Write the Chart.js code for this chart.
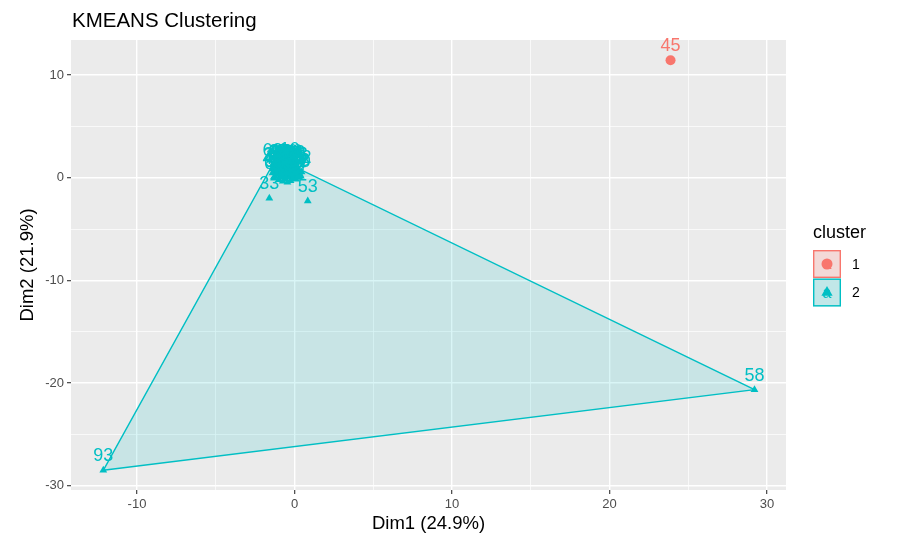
<!DOCTYPE html>
<html>
<head>
<meta charset="utf-8">
<script src="https://cdn.jsdelivr.net/npm/chart.js@4.4.0/dist/chart.umd.min.js"></script>
<style>
html,body{margin:0;padding:0;background:#ffffff;}
#wrap{width:908px;height:535px;position:relative;}
canvas{display:block;}
</style>
</head>
<body>
<div id="wrap"><canvas id="c" width="908" height="535"></canvas></div>
<script>
// ---- data ----
const chartTitle = 'KMEANS Clustering';
const xAxisTitle = 'Dim1 (24.9%)';
const yAxisTitle = 'Dim2 (21.9%)';
const legendTitle = 'cluster';
const clusterNames = ['1', '2'];
const xTickLabels = [-10, 0, 10, 20, 30];
const yTickLabels = [-30, -20, -10, 0, 10];

const cluster1X = [23.87];
const cluster1Y = [11.44];
const cluster1Labels = ['45'];

const cluster2Labels = ['58','93','33','53',
  '1','2','3','4','5','6','7','8','9','10','11','12','13','14','15','16','17','18','19','20',
  '21','22','23','24','25','26','27','28','29','30','31','32','34','35','36','37','38','39','40',
  '41','42','43','44','46','47','48','49','50','51','52','54','55','56','57','59','60','61','62','63','64','65'];
const cluster2X = [29.20,-12.14,-1.60,0.84,
  -0.45,-0.20,-1.30,-0.70,0.10,-0.95,-0.35,0.25,-1.10,-0.30,-0.15,-0.85,0.35,-0.60,-1.20,-0.05,-0.40,-0.75,0.15,-1.00,
  -0.25,-0.90,0.05,-0.50,-1.35,-0.30,0.30,-0.65,-1.05,-0.10,-0.80,0.45,-0.45,-1.25,-0.15,-0.70,0.20,-0.95,-0.35,
  0.00,-0.55,-1.15,0.10,-0.75,-0.20,-1.40,-0.60,0.40,-0.90,-0.25,-1.05,0.05,-0.45,-0.80,-0.10,-1.30,0.25,-1.40,-0.55,-0.05,-0.85];
const cluster2Y = [-20.65,-28.50,-2.00,-2.27,
  0.85,1.05,1.10,0.40,0.90,0.75,0.20,0.60,0.30,1.30,0.55,1.15,0.30,-0.10,0.65,0.15,0.60,0.90,0.35,-0.20,
  -0.30,0.10,1.00,0.35,0.85,0.95,0.05,0.65,1.00,0.75,0.25,0.55,-0.45,0.20,1.15,1.05,0.80,0.50,0.05,
  0.45,0.80,0.90,-0.15,-0.35,0.35,0.45,0.15,0.15,0.95,0.75,0.55,0.60,1.10,0.60,-0.05,-0.05,0.85,1.25,0.50,0.95,0.40];

// convex hull of cluster 2 (vertices: 93, 62, 10, 58, back to 93)
const hullX = [-12.14, -1.40, -0.30, 29.20, -12.14];
const hullY = [-28.50, 1.25, 1.30, -20.65, -28.50];

// ---- styling ----
const COL1 = '#F8766D';
const COL2 = '#00BFC4';
const FONT = '"Liberation Sans", Arial, Helvetica, sans-serif';

const toPts = (xs, ys) => xs.map((x, i) => ({x: x, y: ys[i]}));

const bgPlugin = {
  id: 'ggBackground',
  beforeDraw(chart) {
    const {ctx, chartArea: a} = chart;
    ctx.save();
    ctx.fillStyle = '#ffffff';
    ctx.fillRect(0, 0, chart.width, chart.height);
    ctx.fillStyle = '#EBEBEB';
    ctx.fillRect(a.left, a.top, a.right - a.left, a.bottom - a.top);
    ctx.restore();
  }
};

const labelPlugin = {
  id: 'pointLabels',
  afterDatasetsDraw(chart) {
    const ctx = chart.ctx;
    ctx.save();
    ctx.font = '18px ' + FONT;
    ctx.textAlign = 'center';
    ctx.textBaseline = 'alphabetic';
    [[1, cluster2Labels, COL2], [0, cluster1Labels, COL1]].forEach(([idx, labels, col]) => {
      const meta = chart.getDatasetMeta(idx);
      ctx.fillStyle = col;
      meta.data.forEach((pt, j) => {
        ctx.fillText(labels[j], pt.x, pt.y - 9);
      });
    });
    ctx.restore();
  }
};

const decoPlugin = {
  id: 'ggDecor',
  afterDraw(chart) {
    const ctx = chart.ctx;
    ctx.save();
    // title
    ctx.fillStyle = '#000000';
    ctx.font = '20.5px ' + FONT;
    ctx.textAlign = 'left';
    ctx.textBaseline = 'alphabetic';
    ctx.fillText(chartTitle, 72, 27);
    // legend
    ctx.font = '18px ' + FONT;
    ctx.fillText(legendTitle, 813, 238);
    const cols = [COL1, COL2];
    const rgba = ['rgba(248,118,109,0.2)', 'rgba(0,191,196,0.2)'];
    clusterNames.forEach((name, i) => {
      const left = 813, top = 250 + i * 28.5, size = 28;
      ctx.fillStyle = '#F2F2F2';
      ctx.fillRect(left, top, size, size);
      ctx.fillStyle = rgba[i];
      ctx.fillRect(left, top, size, size);
      ctx.strokeStyle = cols[i];
      ctx.lineWidth = 1.4;
      ctx.strokeRect(left + 0.7, top + 0.7, size - 1.4, size - 1.4);
      const cx = left + size / 2, cy = top + size / 2;
      // text key glyph
      ctx.fillStyle = cols[i];
      ctx.font = '16px ' + FONT;
      ctx.textAlign = 'center';
      ctx.textBaseline = 'middle';
      ctx.fillText('a', cx, cy + 1);
      // point key glyph
      ctx.beginPath();
      if (i === 0) {
        ctx.arc(cx, cy, 5.5, 0, Math.PI * 2);
      } else {
        const r = 6.5;
        ctx.moveTo(cx, cy - r);
        ctx.lineTo(cx + r * Math.sin(Math.PI * 2 / 3), cy - r * Math.cos(Math.PI * 2 / 3));
        ctx.lineTo(cx - r * Math.sin(Math.PI * 2 / 3), cy - r * Math.cos(Math.PI * 2 / 3));
        ctx.closePath();
      }
      ctx.fill();
      // label
      ctx.fillStyle = '#000000';
      ctx.font = '14px ' + FONT;
      ctx.textAlign = 'left';
      ctx.textBaseline = 'middle';
      ctx.fillText(name, 852, cy + 1);
    });
    ctx.restore();
  }
};

const isMajor = (c, list) => c.tick && list.includes(c.tick.value);

const gridFor = (list) => ({
  color: '#FFFFFF',
  lineWidth: c => isMajor(c, list) ? 1.4 : 0.7,
  drawTicks: true,
  tickLength: 4,
  tickWidth: 1.1,
  tickColor: c => isMajor(c, list) ? '#333333' : 'rgba(0,0,0,0)'
});

new Chart(document.getElementById('c'), {
  type: 'scatter',
  data: {
    datasets: [
      {
        label: '1',
        data: toPts(cluster1X, cluster1Y),
        pointStyle: 'circle',
        pointRadius: 5,
        pointHoverRadius: 5,
        backgroundColor: COL1,
        borderWidth: 0
      },
      {
        label: '2',
        data: toPts(cluster2X, cluster2Y),
        pointStyle: 'triangle',
        pointRadius: 4.5,
        pointHoverRadius: 4.5,
        backgroundColor: COL2,
        borderColor: COL2,
        borderWidth: 0
      },
      {
        label: 'hull',
        data: toPts(hullX, hullY),
        showLine: true,
        tension: 0,
        pointRadius: 0,
        pointHoverRadius: 0,
        borderColor: COL2,
        borderWidth: 1.4,
        backgroundColor: 'rgba(0,191,196,0.15)',
        fill: 'shape'
      }
    ]
  },
  options: {
    responsive: false,
    animation: false,
    devicePixelRatio: 1,
    layout: {padding: {left: 0, top: 40, right: 122, bottom: 0}},
    plugins: {
      legend: {display: false},
      tooltip: {enabled: false},
      title: {display: false}
    },
    scales: {
      x: {
        type: 'linear',
        min: -14.19,
        max: 31.2,
        border: {display: false},
        grid: gridFor(xTickLabels),
        ticks: {
          stepSize: 5,
          includeBounds: false,
          autoSkip: false,
          maxRotation: 0,
          padding: 3,
          color: '#4D4D4D',
          font: {family: FONT, size: 13},
          callback: v => xTickLabels.includes(v) ? String(v) : ''
        },
        title: {
          display: true,
          text: xAxisTitle,
          color: '#000000',
          font: {family: FONT, size: 18.5},
          padding: {top: 0, bottom: 0}
        },
        afterFit: s => { s.height = 45; }
      },
      y: {
        type: 'linear',
        min: -30.42,
        max: 13.41,
        border: {display: false},
        grid: gridFor(yTickLabels),
        ticks: {
          stepSize: 5,
          includeBounds: false,
          autoSkip: false,
          padding: 3,
          color: '#4D4D4D',
          font: {family: FONT, size: 13},
          callback: v => yTickLabels.includes(v) ? String(v) : ''
        },
        title: {
          display: true,
          text: yAxisTitle,
          color: '#000000',
          font: {family: FONT, size: 18.5},
          padding: {top: 17, bottom: 0}
        },
        afterFit: s => { s.width = 71; }
      }
    }
  },
  plugins: [bgPlugin, labelPlugin, decoPlugin]
});
</script>
</body>
</html>
